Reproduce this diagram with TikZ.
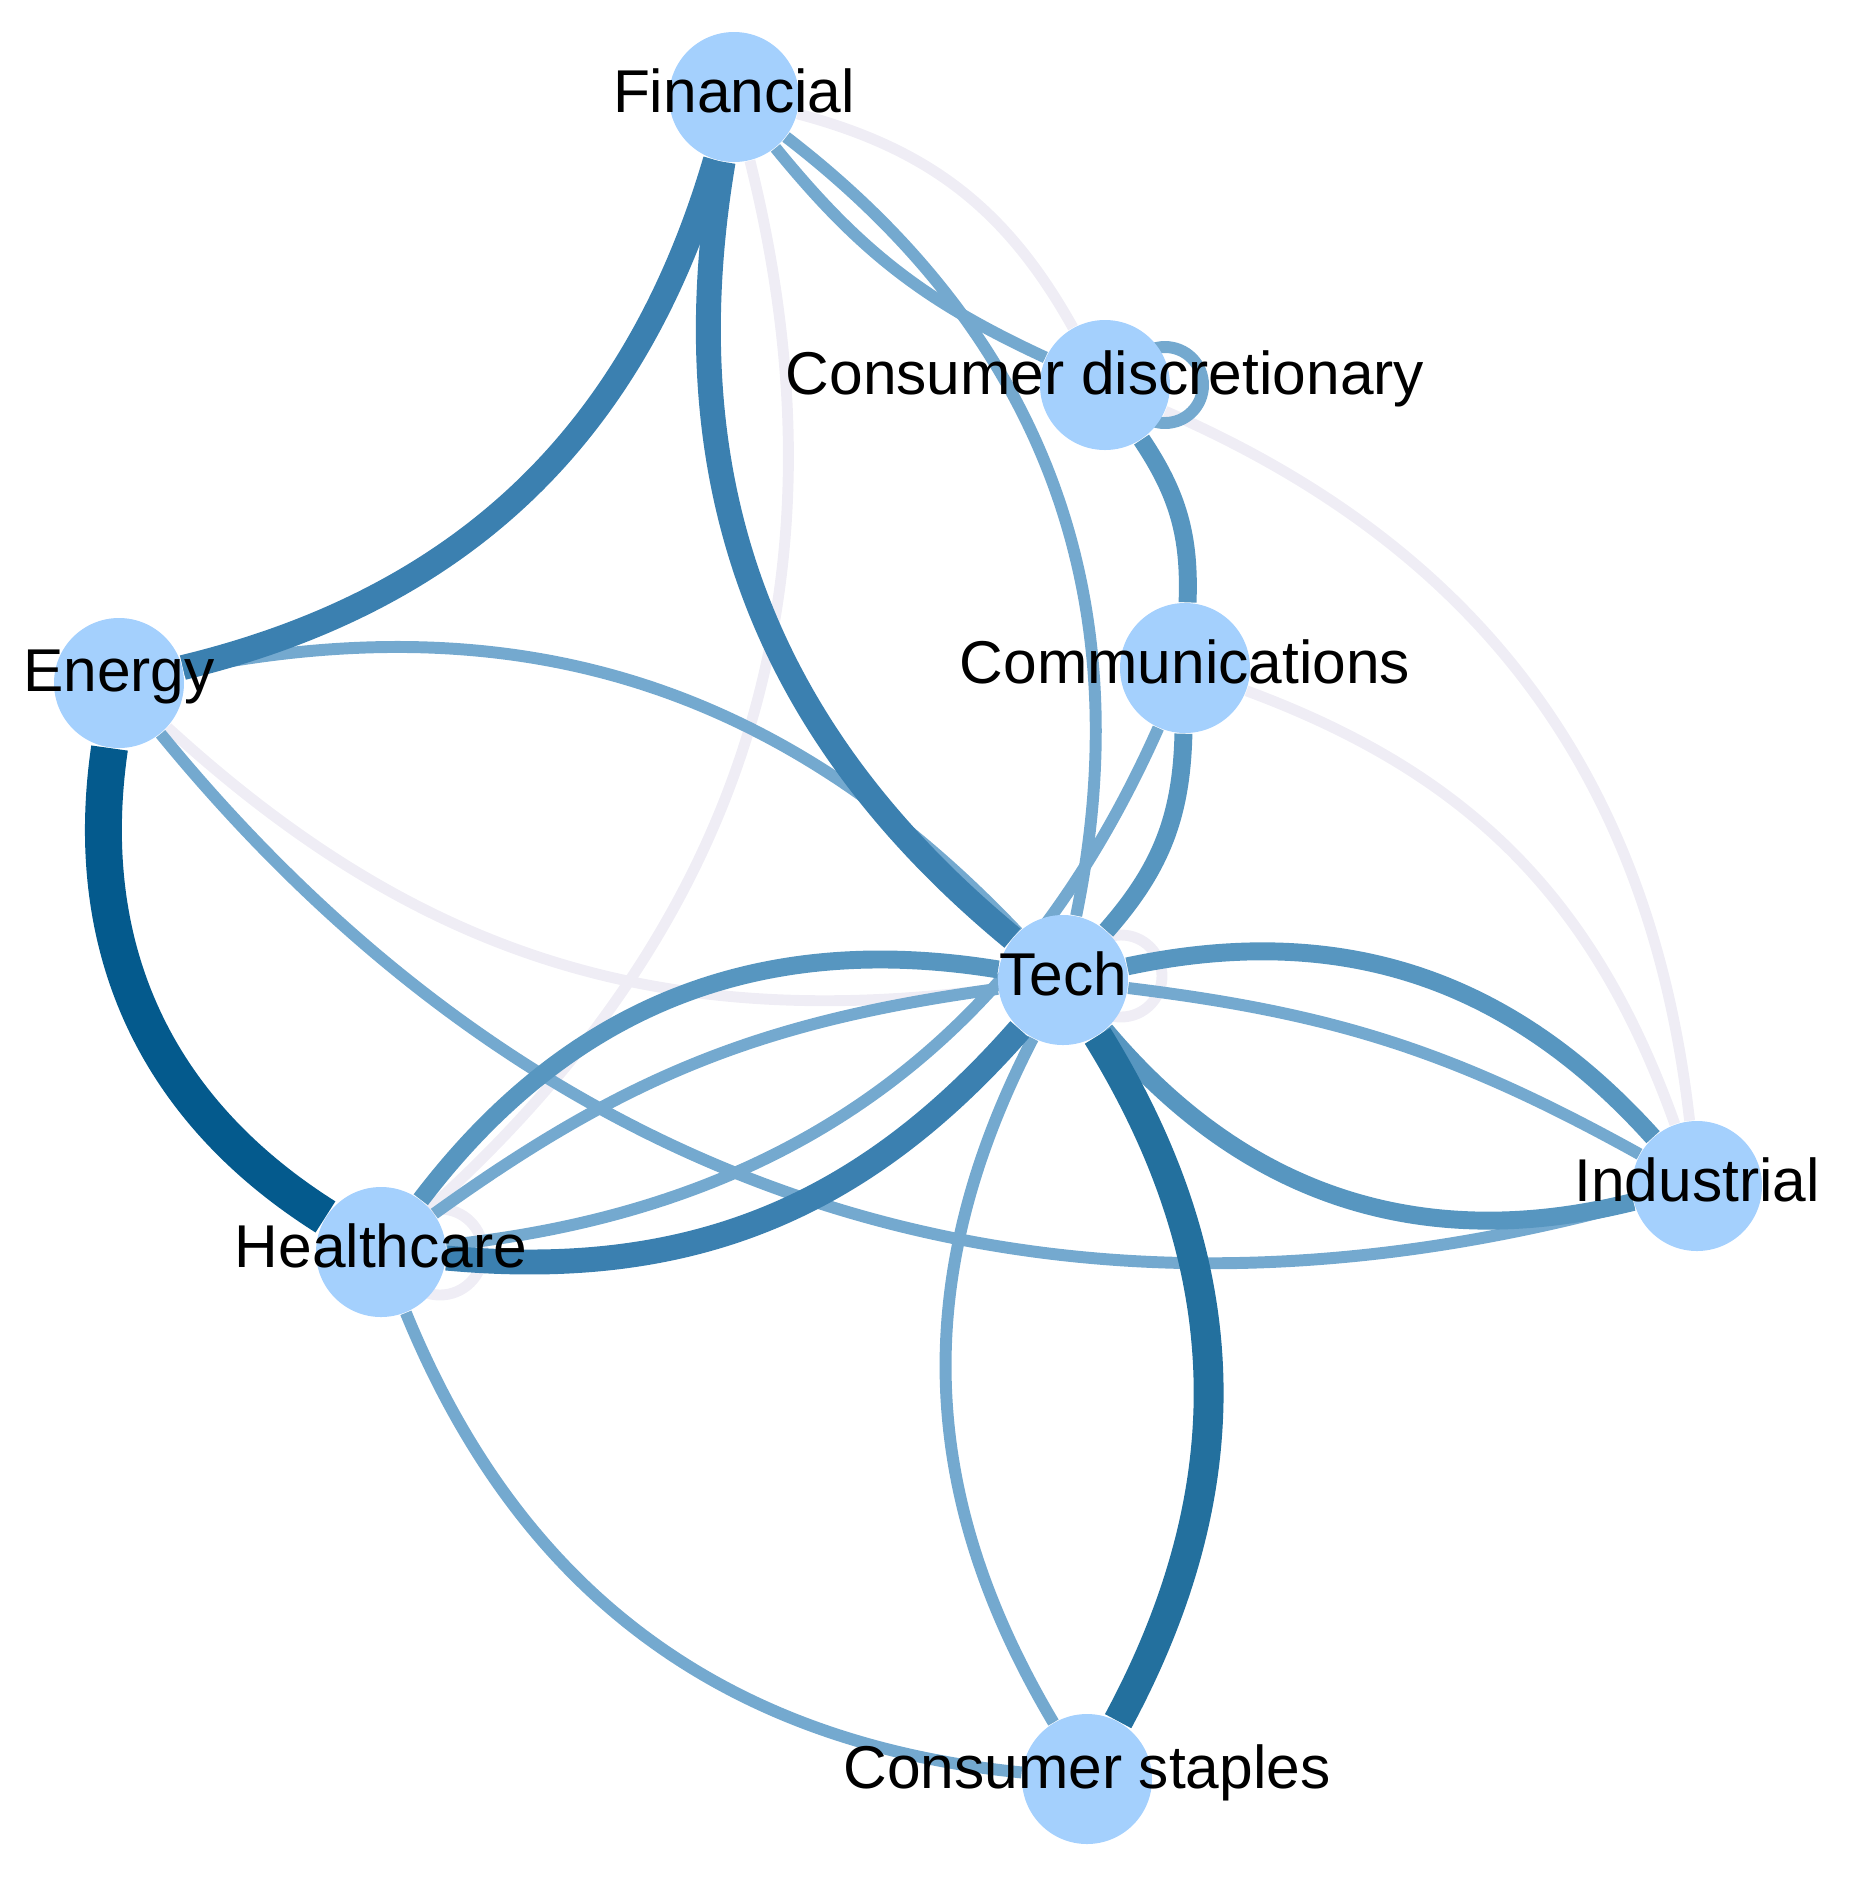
\documentclass[tikz,border=0pt]{standalone}
\usepackage{fontspec}
\setmainfont{Liberation Sans}
\usepackage{tikz}
\usetikzlibrary{backgrounds}

\definecolor{vertfill}{HTML}{A4D0FD}
\definecolor{lavcol}{HTML}{EFEDF5}
\definecolor{litecol}{HTML}{74A9CF}
\definecolor{midcol}{HTML}{5796C0}
\definecolor{strongcol}{HTML}{3B80B0}
\definecolor{deepcol}{HTML}{23709E}
\definecolor{deepestcol}{HTML}{045A8D}

\begin{document}
\begin{tikzpicture}
            [
            vert/.style={circle,fill=vertfill,minimum size=1.3cm,inner sep=0pt},
            every label/.style={font=\fontsize{17.2}{20}\selectfont,text=black,yshift=0.06cm},
            lav/.style={draw=lavcol,line width=3.1pt},
            lite/.style={draw=litecol,line width=3.4pt},
            mid/.style={draw=midcol,line width=5.1pt},
            strong/.style={draw=strongcol,line width=7.1pt},
            deep/.style={draw=deepcol,line width=8.5pt},
            deepest/.style={draw=deepestcol,line width=10.5pt},
            ]
            \useasboundingbox (0,0) rectangle (18.52,-18.87);

            % Sectors
            \node[vert,label=center:Financial] (fin) at (7.34,-0.97) {};
            \node[vert,label=center:Consumer discretionary] (cdis) at (11.05,-3.85) {};
            \node[vert,label=center:Communications] (comm) at (11.85,-6.68) {};
            \node[vert,label=center:Energy] (ener) at (1.19,-6.83) {};
            \node[vert,label=center:Tech] (tech) at (10.63,-9.80) {};
            \node[vert,label=center:Industrial] (indu) at (16.97,-11.86) {};
            \node[vert,label=center:Healthcare] (hlth) at (3.81,-12.52) {};
            \node[vert,label=center:Consumer staples] (cstap) at (10.87,-17.79) {};

            \begin{scope}[on background layer]
            % Weak links
            \draw[lav] (fin) to[bend left=23] (cdis);
            \draw[lav] (fin) to[bend left=31] (hlth);
            \draw[lav] (cdis) to[bend left=30] (indu);
            \draw[lav] (comm) to[bend left=25] (indu);
            \draw[lav] (ener) to[bend right=25] (tech);
            \draw[lav] ([shift={(0.58,0.04)}]tech.center) circle (0.41);
            \draw[lav] ([shift={(0.59,0)}]hlth.center) circle (0.43);

            % Light links
            \draw[lite] (fin) to[bend right=13] (cdis);
            \draw[lite] (fin) to[bend left=32] (tech);
            \draw[lite] (comm) to[bend left=30] (hlth);
            \draw[lite] (ener) to[bend left=29] (tech);
            \draw[lite] (ener) to[bend right=33] (indu);
            \draw[lite] (tech) to[bend left=11] (indu);
            \draw[lite] (tech) to[bend right=14] (hlth);
            \draw[lite] (tech) to[bend right=29] (cstap);
            \draw[lite] (hlth) to[bend right=31] (cstap);
            \draw[lite] ([shift={(0.6,0)}]cdis.center) circle (0.38);

            % Medium links
            \draw[mid] (cdis) to[bend left=18] (comm);
            \draw[mid] (comm) to[bend left=20] (tech);
            \draw[mid] (tech) to[bend left=30] (indu);
            \draw[mid] (tech) to[bend right=32] (indu);
            \draw[mid] (tech) to[bend right=31] (hlth);

            % Strong links
            \draw[strong] (ener) to[bend right=30] (fin);
            \draw[strong] (fin) to[bend right=30] (tech);
            \draw[strong] (tech) to[bend left=27] (hlth);
            \draw[deep] (tech) to[bend left=30] (cstap);
            \draw[deepest] (ener) to[bend right=33] (hlth);
            \end{scope}

        \end{tikzpicture}
\end{document}
